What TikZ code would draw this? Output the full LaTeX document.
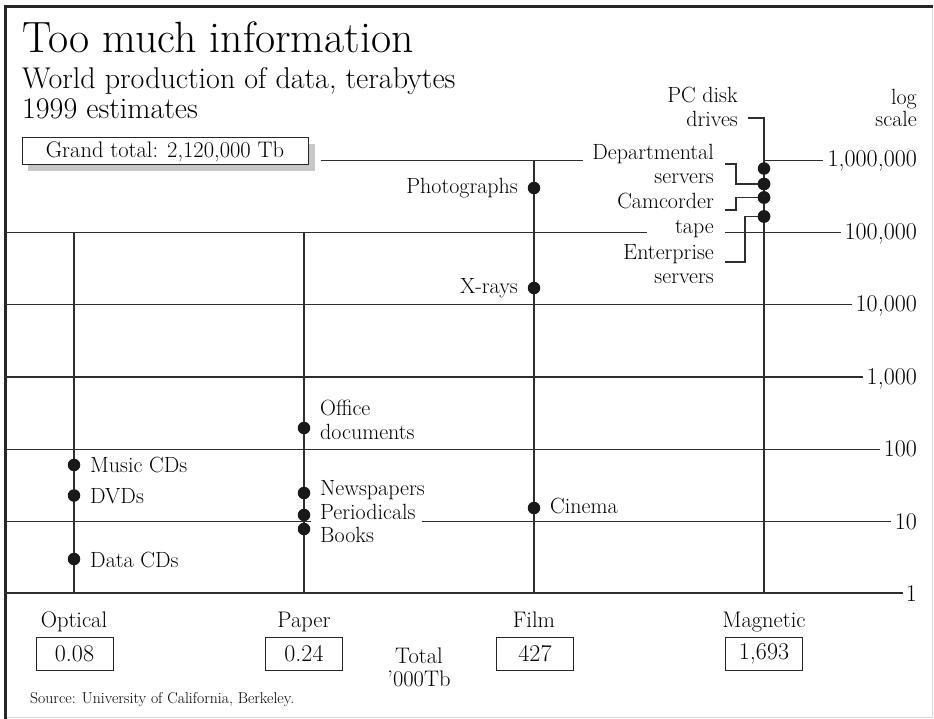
\documentclass[tikz,border=0pt]{standalone}
\usepackage{fontspec}
\begin{document}
\begin{tikzpicture}[x=1pt,y=-1pt,
  grid/.style={line width=1.3pt, draw=black!82},
  lbl/.style={font=\fontsize{22}{24}\selectfont, inner sep=0pt, text=black},
  lblw/.style={lbl, anchor=base west},
  lble/.style={lbl, anchor=base east},
  ax/.style={font=\fontsize{24}{26}\selectfont, inner sep=0pt, anchor=base east, text=black},
  cat/.style={font=\fontsize{22.5}{24}\selectfont, inner sep=0pt, anchor=base, text=black},
  dot/.style={circle, fill=black!90, inner sep=0pt, minimum size=12.5pt},
  valbox/.style={draw=black!85, line width=1pt, minimum width=77pt, minimum height=33pt, inner sep=0pt, font=\fontsize{24}{26}\selectfont, text=black}
]
\useasboundingbox (0,0) rectangle (934,719);
% frame
\draw[line width=1.2pt, draw=black!15] (932.5,7) -- (932.5,717.8) -- (5,717.8);
\draw[line width=3pt, draw=black!85] (5,719) -- (5,7) -- (933,7);

% titles
\node[anchor=base west, inner sep=0pt, font=\fontsize{43.8}{46}\selectfont, text=black] (title) at (22,53) {Too much information};
\node[anchor=base west, inner sep=0pt, font=\fontsize{30}{32}\selectfont, text=black] (sub) at (22,89) {World production of data, terabytes};
\node[anchor=base west, inner sep=0pt, font=\fontsize{30}{32}\selectfont, text=black] (year) at (22,119) {1999 estimates};

% grand total box
\fill[black!22] (28,144) rectangle (314.5,171.5);
\node[draw=black!85, line width=1pt, fill=white, minimum width=286pt, minimum height=27pt, inner sep=0pt, font=\fontsize{22.5}{24}\selectfont, text=black] (gt) at (165,151.5) {Grand total: 2,120,000 Tb};

% axis labels
\node[ax] (a6) at (917,167) {1,000,000};
\node[ax] (a5) at (917,239.5) {100,000};
\node[ax] (a4) at (917,311.5) {10,000};
\node[ax] (a3) at (917,384) {1,000};
\node[ax] (a2) at (917,456.5) {100};
\node[ax] (a1) at (917,529) {10};
\node[ax] (a0) at (917,601) {1};
\node[lble] (log1) at (917,105) {log};
\node[lble] (log2) at (917,127) {scale};

% right-hand labels (magnetic)
\node[lble] (pc1) at (738,103) {PC disk};
\node[lble] (pc2) at (738,127) {drives};
\node[lble] (dep1) at (714,160) {Departmental};
\node[lble] (dep2) at (714,183.5) {servers};
\node[lble] (cam1) at (714,209) {Camcorder};
\node[lble] (cam2) at (714,234) {tape};
\node[lble] (ent1) at (714,260) {Enterprise};
\node[lble] (ent2) at (714,283.5) {servers};

% film labels
\node[lble] (lphoto) at (518,194) {Photographs};
\node[lble] (lxray) at (518,293.5) {X-rays};
\node[lblw] (lcine) at (550,513.5) {Cinema};

% optical labels
\node[lblw] (lmusic) at (90,472) {Music CDs};
\node[lblw] (ldvd) at (90,503.5) {DVDs};
\node[lblw] (ldata) at (90,567) {Data CDs};

% paper labels
\node[lblw] (loff1) at (320,415) {Office};
\node[lblw] (loff2) at (320,439) {documents};
\node[lblw] (lnews) at (320,495) {Newspapers};
\node[lblw] (lper) at (320,519) {Periodicals};
\node[lblw] (lbook) at (320,542) {Books};

% horizontal grid lines
\draw[grid] ([xshift=12pt]gt.east |- 0,160.5) -- (583,160.5);
\draw[grid] (764,160.5) -- ([xshift=-4pt]a6.west |- 0,160.5);
\draw[grid] (5,232.6) -- (647,232.6);
\draw[grid] (725,232.6) -- ([xshift=-4pt]a5.west |- 0,232.6);
\draw[grid] (5,304.8) -- ([xshift=-4pt]a4.west |- 0,304.8);
\draw[grid] (5,377) -- ([xshift=-4pt]a3.west |- 0,377);
\draw[grid] (5,449.3) -- ([xshift=-4pt]a2.west |- 0,449.3);
\draw[grid] (5,521.5) -- (311,521.5);
\draw[grid] ([xshift=6pt]lper.east |- 0,521.5) -- ([xshift=-4pt]a1.west |- 0,521.5);
\draw[grid] (5,593) -- ([xshift=-3pt]a0.west |- 0,593);

% vertical lines
\coordinate (otop) at (74,232.6);  \coordinate (obot) at (74,593);
\coordinate (ptop) at (304,232.6); \coordinate (pbot) at (304,593);
\coordinate (ftop) at (534,160.5); \coordinate (fbot) at (534,593);
\coordinate (mtop) at (764,118);   \coordinate (mbot) at (764,593);
\draw[grid] (otop) -- (obot);
\draw[grid] (ptop) -- (pbot);
\draw[grid] (ftop) -- (fbot);
\draw[grid] (748,118) -- (mtop) -- (mbot);

% dots
\node[dot] (dmusic) at (74,465) {};
\node[dot] (ddvd) at (74,495.5) {};
\node[dot] (ddata) at (74,559) {};
\node[dot] (doff) at (304,428) {};
\node[dot] (dnews) at (304,493) {};
\node[dot] (dper) at (304,515) {};
\node[dot] (dbook) at (304,529) {};
\node[dot] (dphoto) at (534,188) {};
\node[dot] (dxray) at (534,288) {};
\node[dot] (dcine) at (534,508) {};
\node[dot] (dpc) at (764,168.5) {};
\node[dot] (ddep) at (764,184) {};
\node[dot] (dcam) at (764,197.5) {};
\node[dot] (dent) at (764,216.5) {};

% brackets
\draw[grid] (725,164) -- ++(11,0) |- (ddep.center);
\draw[grid] (725,210) -- ++(11,0) |- (dcam.center);
\draw[grid] (725,262) -- ++(20,0) |- (dent.center);
\node[dot] at (ddep) {};
\node[dot] at (dcam) {};
\node[dot] at (dent) {};

% categories
\node[cat] (copt) at (74,627) {Optical};
\node[cat] (cpap) at (304,627) {Paper};
\node[cat] (cfilm) at (534,627) {Film};
\node[cat] (cmag) at (764,627) {Magnetic};
\node[valbox] (vopt) at (74.5,654) {0.08};
\node[valbox] (vpap) at (304,654) {0.24};
\node[valbox] (vfilm) at (535,654) {427};
\node[valbox] (vmag) at (764,654) {1,693};
\node[cat] (tot1) at (419,663) {Total};
\node[cat] (tot2) at (419,686) {’000Tb};

\node[anchor=base west, inner sep=0pt, font=\fontsize{15.7}{17}\selectfont, text=black] (src) at (30,703) {Source: University of California, Berkeley.};
\end{tikzpicture}
\end{document}
